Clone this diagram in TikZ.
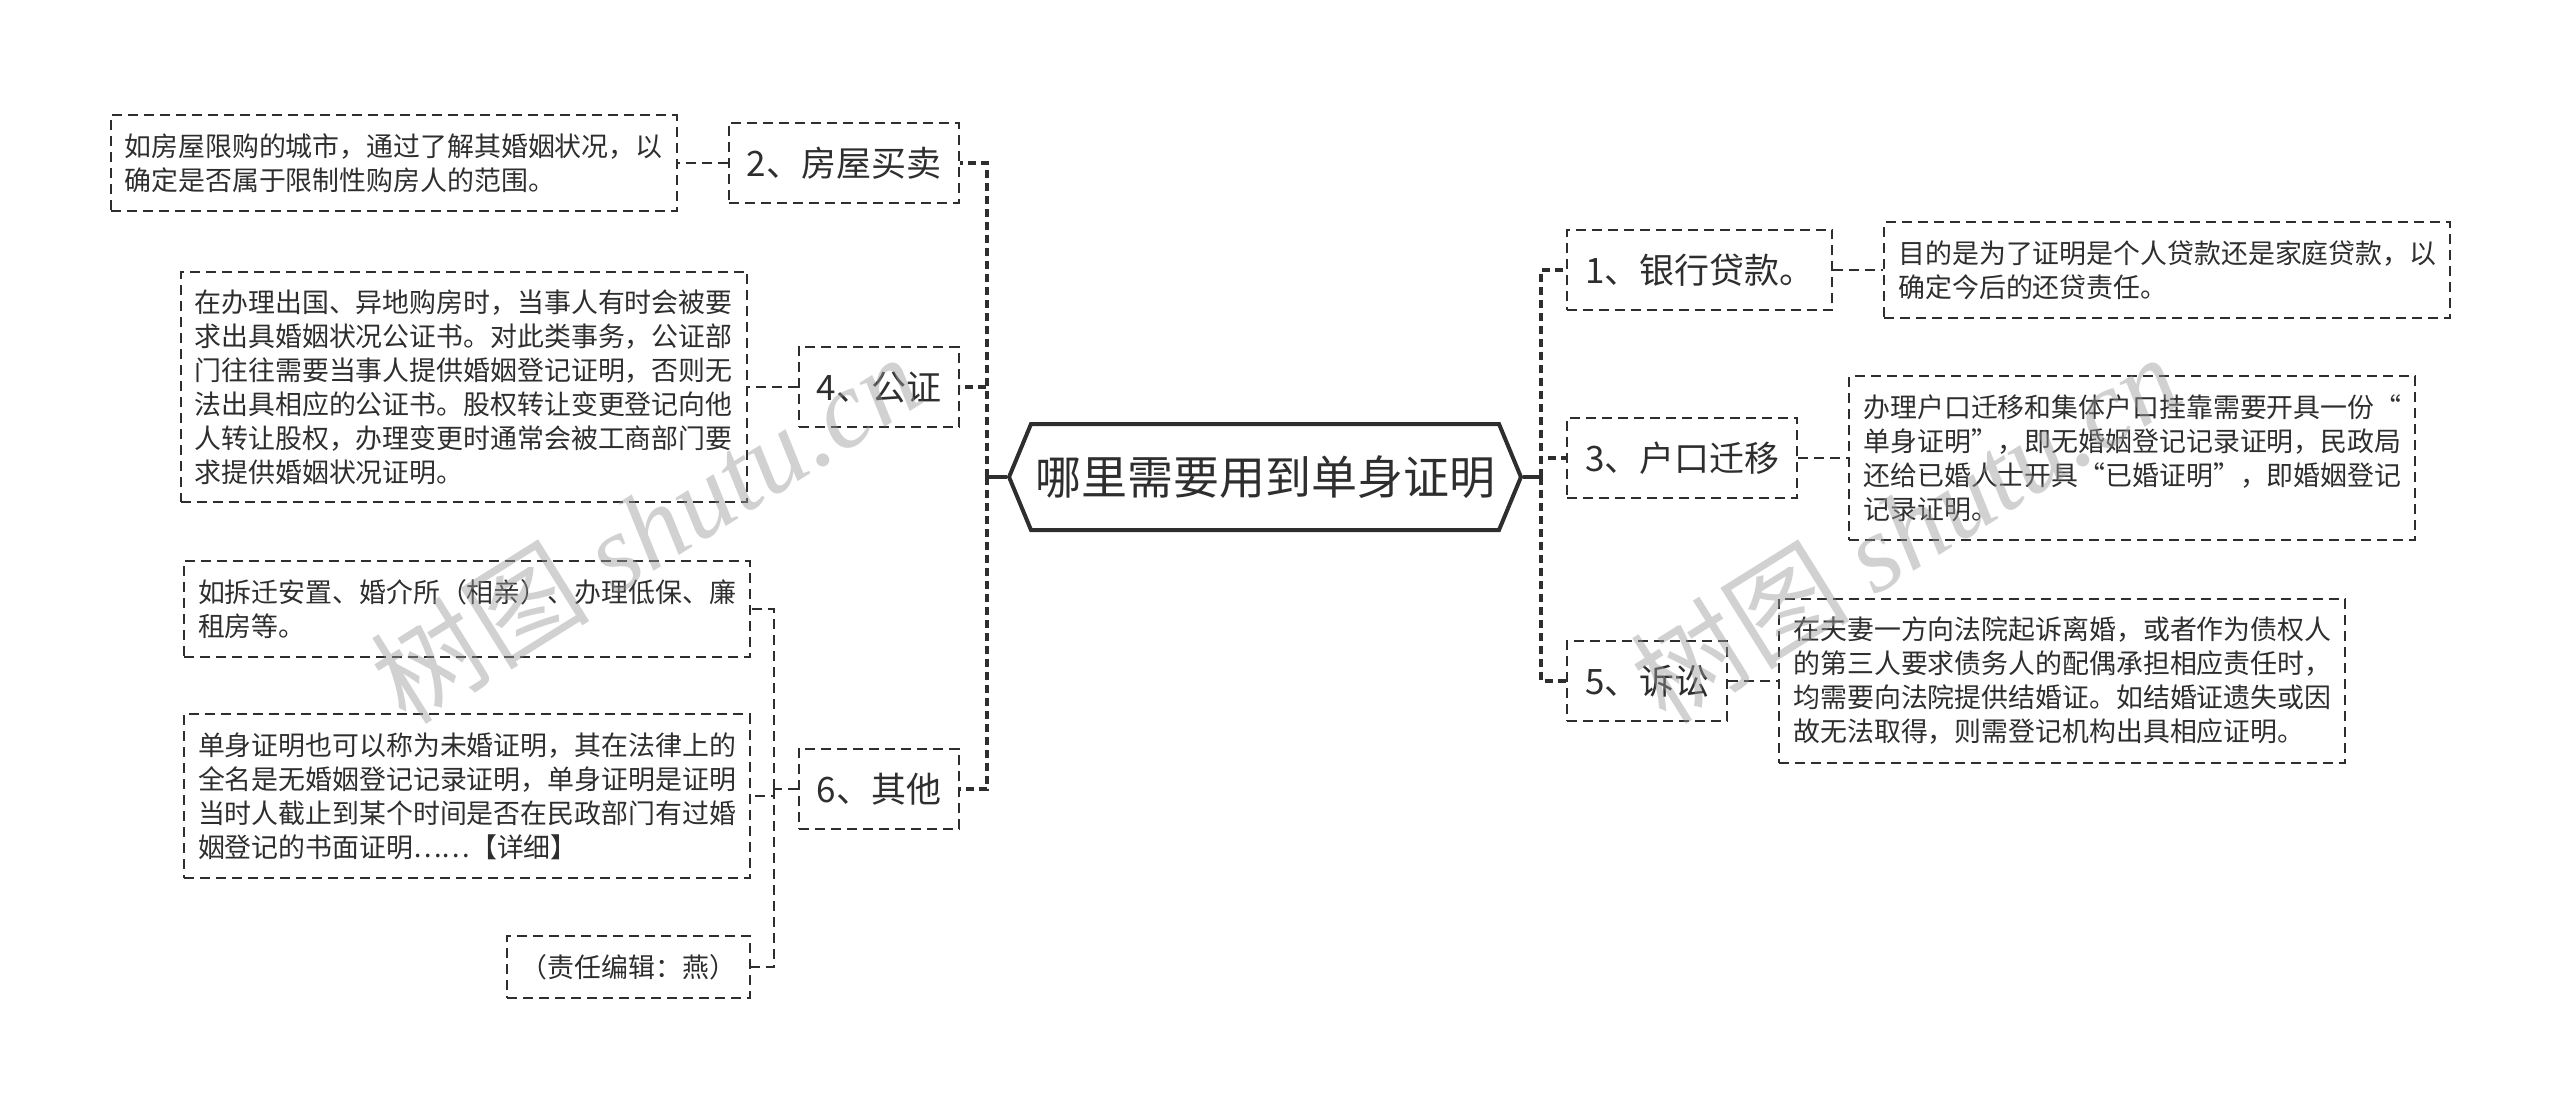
\documentclass[tikz,border=0pt]{standalone}
\usepackage{fontspec}
\setmainfont{Noto Sans CJK SC}
\newfontfamily\wmlatin{Liberation Serif}
\usetikzlibrary{positioning,shapes.symbols}
\definecolor{inkgray}{HTML}{2E2E2E}
\tikzset{
  topic/.style={draw=inkgray,line width=1pt,dash pattern=on 5pt off 3pt,text=inkgray,
        font=\fontsize{17.5}{21}\selectfont,minimum height=40pt,inner xsep=9pt},
  note/.style={draw=inkgray,line width=1pt,dash pattern=on 5pt off 3pt,text=inkgray,
        font=\fontsize{13.45}{17}\selectfont,align=left,inner xsep=7pt,inner ysep=9pt},
  bus/.style={draw=inkgray,line width=1.8pt,dash pattern=on 4pt off 2.5pt},
  link/.style={draw=inkgray,line width=1pt,dash pattern=on 5pt off 3pt},
  stub/.style={draw=inkgray,line width=2pt},
  wmark/.style={rotate=32,text=black!40,opacity=0.45,font=\fontsize{55}{55}\selectfont},
}

\begin{document}
\begin{tikzpicture}[x=0.5pt,y=-0.5pt]
  \useasboundingbox (0,0) rectangle (2560,1115);
  % centre
  \node[signal,signal to=east and west,signal pointer angle=135,draw=inkgray,line width=2pt,
        text=inkgray,font=\fontsize{23}{28}\selectfont,minimum height=53pt,inner xsep=2pt]
        (root) at (1265,477) {哪里需要用到单身证明};
  \coordinate (jR) at (1541,477);
  \coordinate (jL) at (987,477);

  % right branches
  \node[topic,anchor=west] (t1) at (1566,270) {1、银行贷款。};
  \node[topic,anchor=west] (t3) at (1566,458) {3、户口迁移};
  \node[topic,anchor=west] (t5) at (1566,681) {5、诉讼};
  \node[note,right=25pt of t1] (n1) {目的是为了证明是个人贷款还是家庭贷款，以\\确定今后的还贷责任。};
  \node[note,right=25pt of t3] (n3) {办理户口迁移和集体户口挂靠需要开具一份“\\单身证明”，即无婚姻登记记录证明，民政局\\还给已婚人士开具“已婚证明”，即婚姻登记\\记录证明。};
  \node[note,right=25pt of t5] (n5) {在夫妻一方向法院起诉离婚，或者作为债权人\\的第三人要求债务人的配偶承担相应责任时，\\均需要向法院提供结婚证。如结婚证遗失或因\\故无法取得，则需登记机构出具相应证明。};

  % left branches
  \node[topic,anchor=east] (t2) at (960,163) {2、房屋买卖};
  \node[topic,anchor=east] (t4) at (960,387) {4、公证};
  \node[topic,anchor=east] (t6) at (960,789) {6、其他};
  \node[note,left=25pt of t2] (n2) {如房屋限购的城市，通过了解其婚姻状况，以\\确定是否属于限制性购房人的范围。};
  \node[note,left=25pt of t4] (n4) {在办理出国、异地购房时，当事人有时会被要\\求出具婚姻状况公证书。对此类事务，公证部\\门往往需要当事人提供婚姻登记证明，否则无\\法出具相应的公证书。股权转让变更登记向他\\人转让股权，办理变更时通常会被工商部门要\\求提供婚姻状况证明。};
  \node[note,anchor=east] (n6a) at (751,609) {如拆迁安置、婚介所（相亲）、办理低保、廉\\租房等。};
  \node[note,anchor=east] (n6b) at (751,796) {单身证明也可以称为未婚证明，其在法律上的\\全名是无婚姻登记记录证明，单身证明是证明\\当时人截止到某个时间是否在民政部门有过婚\\姻登记的书面证明……【详细】};
  \node[note,anchor=east] (n6c) at (751,967) {（责任编辑：燕）};
  \coordinate (j6) at (774,789);

  % connectors
  \draw[stub] (root.east) -- (jR);
  \draw[stub] ([yshift=4pt]jR) -- ([yshift=-4pt]jR);
  \draw[stub] (root.west) -- (jL);
  \draw[stub] ([yshift=4pt]jL) -- ([yshift=-4pt]jL);
  \foreach \t in {t1,t3,t5} \draw[bus] (jR) |- (\t.west);
  \foreach \t in {t2,t4,t6} \draw[bus] (jL) |- (\t.east);
  \draw[link] (t1) -- (n1);
  \draw[link] (t3) -- (n3);
  \draw[link] (t5) -- (n5);
  \draw[link] (t2) -- (n2);
  \draw[link] (t4) -- (n4);
  \draw[link] (t6.west) -- (j6);
  \foreach \n in {n6a,n6b,n6c} \draw[link] (j6) |- (\n.east);

  % watermarks
  \node[wmark] (wm1) at (645,528) {树图 {\wmlatin\itshape shutu.cn}};
  \node[wmark] (wm2) at (1905,528) {树图 {\wmlatin\itshape shutu.cn}};
\end{tikzpicture}
\end{document}
